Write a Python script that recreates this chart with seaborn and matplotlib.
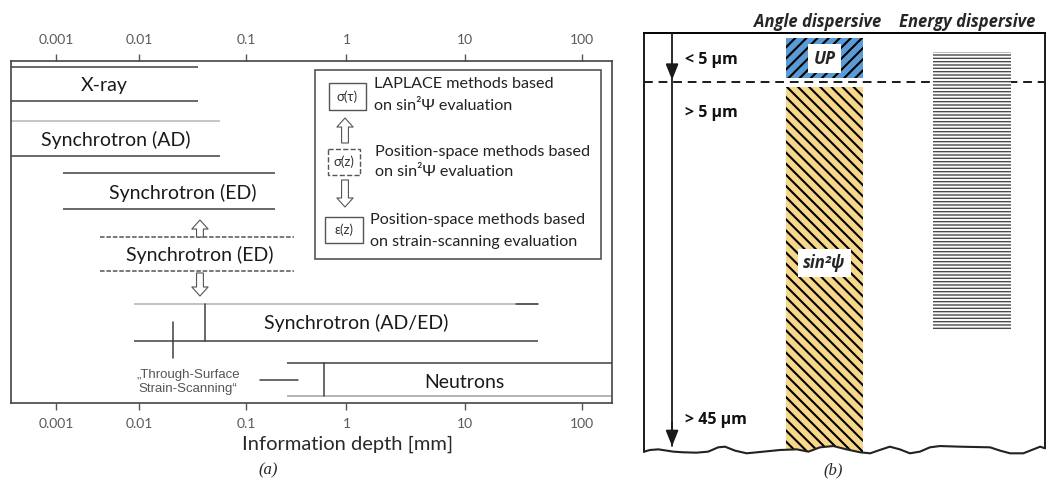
import numpy as np
import matplotlib
matplotlib.use("Agg")
import matplotlib.pyplot as plt
from matplotlib.patches import Rectangle
from matplotlib.ticker import FixedLocator, FixedFormatter, NullLocator
import seaborn as sns

# ---------------- data : panel (a) ----------------
tick_values = [0.001, 0.01, 0.1, 1, 10, 100]
tick_labels = ["0.001", "0.01", "0.1", "1", "10", "100"]
methods = ["X-ray", "Synchrotron (AD)", "Synchrotron (ED)", "Synchrotron (ED)",
           "Synchrotron (AD/ED)", "Neutrons"]
depth_min = [0.00029, 0.00029, 0.00121, 0.00337, 0.0086, 0.256]
depth_max = [0.0354, 0.057, 0.194, 0.30, 42.5, 182.0]
depth_split = [None, None, None, None, 0.041, 0.597]
label_depth = [0.00376, 0.00524, 0.0256, 0.037, 1.20, 10.0]
adad_dark_from = 27.5
arrow_depth = 0.037
tss_marker = 0.0206
tss_range = [0.138, 0.329]
tss_label_depth = 0.0285
tss_label = "\u201eThrough-Surface\nStrain-Scanning\u201c"
depth_limits = [0.00029, 182.0]
xlabel = "Information depth [mm]"

legend_codes = ["σ(τ)", "σ(z)", "ε(z)"]
legend_lines = ["LAPLACE methods based", "on sin²Ψ evaluation",
                "Position-space methods based", "on sin²Ψ evaluation",
                "Position-space methods based", "on strain-scanning evaluation"]

# ---------------- data : panel (b) ----------------
b_headers = ["Angle dispersive", "Energy dispersive"]
b_depth_labels = ["< 5 µm", "> 5 µm", "> 45 µm"]
b_depth_label_pos = [2.6, 8.4, 41.7]
b_boundary = 5.0
up_range = [0.22, 4.57]
sin2psi_top = 5.54
ed_range = [1.74, 32.07]
surface_x = [0.0, 0.015, 0.036, 0.057, 0.073, 0.098, 0.131, 0.160, 0.185, 0.202,
             0.227, 0.256, 0.298, 0.339, 0.381, 0.410, 0.439, 0.472, 0.505, 0.539,
             0.564, 0.588, 0.613, 0.638, 0.663, 0.688, 0.713, 0.738, 0.788, 0.863,
             0.888, 0.913, 0.946, 0.971, 0.988, 1.0]
surface_depth = [45.18, 45.0, 44.93, 45.07, 45.18, 45.25, 45.29, 45.18, 44.71, 44.64,
                 45.07, 45.36, 45.18, 45.0, 44.93, 45.18, 44.71, 44.57, 44.93, 45.25,
                 45.36, 45.0, 44.64, 44.93, 45.36, 45.18, 44.71, 44.57, 44.64, 44.71,
                 45.07, 45.36, 45.36, 44.93, 44.64, 44.82]

# ---------------- layout / style ----------------
W, H = 1047, 486
row_top = [67, 121, 173, 237, 304, 363]
row_bot = [101, 156, 209, 271, 341, 396]
label_row = [86, 140, 193, 255, 323, 383]
top_col = ["#404040", "#b5b5b5", "#404040", "#555555", "#b0b0b0", "#404040"]
bot_col = ["#404040", "#404040", "#404040", "#555555", "#404040", "#a0a0a0"]
row_ls = ["-", "-", "-", (0, (3, 1.2)), "-", "-"]

sns.set_theme(style="white")
plt.rcParams["font.family"] = ["Lato", "DejaVu Sans"]
plt.rcParams["hatch.linewidth"] = 1.5

fig = plt.figure(figsize=(W / 100, H / 100), dpi=100)


def fa(l, t, r, b):
    return [l / W, 1 - b / H, (r - l) / W, (b - t) / H]


# ===== panel (a) =====
ax = fig.add_axes(fa(11, 61, 612, 403))
dec_log = np.array([-4, -3, -2, -1, 0, 1, 2, 3], float)
dec_pos = np.array([-27.5, 56, 139.5, 246, 346.5, 464.5, 581.5, 698.5])


def fwd(x):
    x = np.asarray(x, float)
    return np.interp(np.log10(np.clip(x, 1e-12, None)), dec_log, dec_pos)


def inv(p):
    return 10 ** np.interp(np.asarray(p, float), dec_pos, dec_log)


ax.set_xscale("function", functions=(fwd, inv))

lw_a = 1.1
for i, name in enumerate(methods):
    ax.plot([depth_min[i], depth_max[i]], [row_top[i]] * 2, color=top_col[i],
            lw=lw_a, ls=row_ls[i], solid_capstyle="butt")
    ax.plot([depth_min[i], depth_max[i]], [row_bot[i]] * 2, color=bot_col[i],
            lw=lw_a, ls=row_ls[i], solid_capstyle="butt")
    if depth_split[i] is not None:
        ax.plot([depth_split[i]] * 2, [row_top[i], row_bot[i]], color="#404040", lw=lw_a)
    ax.text(label_depth[i], label_row[i], name, ha="center", va="center",
            fontsize=14, color="#1a1a1a")

ax.plot([adad_dark_from, depth_max[4]], [row_top[4]] * 2, color="#404040", lw=lw_a)
ax.plot([tss_marker] * 2, [322, 358], color="#404040", lw=lw_a)
ax.plot(tss_range, [380, 380], color="#404040", lw=lw_a)
ax.text(tss_label_depth, 382, tss_label, ha="center", va="center", fontsize=9.5,
        color="#555555", family=["Liberation Sans", "DejaVu Sans"], linespacing=1.15)

hollow = dict(arrowstyle="simple,head_length=0.5,head_width=0.9,tail_width=0.38",
              fc="white", ec="#555555", lw=0.8, shrinkA=0, shrinkB=0, mutation_scale=13)
ax.annotate("", xy=(arrow_depth, 220), xytext=(arrow_depth, 237), arrowprops=hollow)
ax.annotate("", xy=(arrow_depth, 296), xytext=(arrow_depth, 273), arrowprops=hollow)

ax.set_xlim(*depth_limits)
ax.set_ylim(403, 61)
ax.xaxis.set_major_locator(FixedLocator(tick_values))
ax.xaxis.set_major_formatter(FixedFormatter(tick_labels))
ax.xaxis.set_minor_locator(NullLocator())
ax.set_yticks([])
ax.tick_params(axis="x", which="major", top=True, labeltop=True, bottom=True,
               labelbottom=True, direction="out", length=5, width=1,
               color="#555555", labelcolor="#5a5a5a", labelsize=10, pad=6)
for s in ax.spines.values():
    s.set_color("#444444")
    s.set_linewidth(1.2)
ax.set_xlabel(xlabel, fontsize=14.5, color="#2a2a2a")
ax.xaxis.set_label_coords((348 - 11) / 601, -(436 - 403) / 342)

# ===== panel (b) =====
axb = fig.add_axes(fa(644, 33, 1045, 458))
bfont = ["Open Sans", "DejaVu Sans"]

# bottom surface profile
sns.lineplot(x=surface_x, y=surface_depth, ax=axb, color="#222222", linewidth=1.5,
             estimator=None, sort=False, legend=False, zorder=5)
axb.get_lines()[-1].set_clip_on(False)

ytop = -0.33
axb.plot([0, 0], [ytop, surface_depth[0]], color="k", lw=1.4, clip_on=False)
axb.plot([1, 1], [ytop, surface_depth[-1]], color="k", lw=1.4, clip_on=False)
axb.plot([0, 1], [b_boundary] * 2, color="k", lw=1.4, ls=(0, (4.5, 3)), clip_on=False, zorder=1)

# depth arrow
axb.plot([0.07, 0.07], [ytop, 44.6], color="k", lw=1.3, zorder=3)
head = dict(arrowstyle="-|>,head_length=0.8,head_width=0.32", color="k", lw=1.3,
            shrinkA=0, shrinkB=0, mutation_scale=12)
axb.annotate("", xy=(0.07, 4.78), xytext=(0.07, 3.0), arrowprops=head, zorder=3)
axb.annotate("", xy=(0.07, 44.6), xytext=(0.07, 42.0), arrowprops=head, zorder=3)

ad_col = (0.354, 0.546)
ed_col = (0.721, 0.915)

up = Rectangle((ad_col[0], up_range[0]), ad_col[1] - ad_col[0], up_range[1] - up_range[0],
               facecolor="#5b9bd5", edgecolor="black", lw=0, hatch="///", zorder=2)
axb.add_patch(up)

xs = np.linspace(ad_col[0], ad_col[1], 80)
ys = np.interp(xs, surface_x, surface_depth)
yel = axb.fill_between(xs, sin2psi_top, ys, facecolor="#f7d88a", edgecolor="black",
                       lw=0, hatch="\\\\\\", zorder=2)

with plt.rc_context({"hatch.linewidth": 1.0}):
    ed = Rectangle((ed_col[0], ed_range[0]), ed_col[1] - ed_col[0], ed_range[1] - ed_range[0],
                   facecolor="white", edgecolor="#4a4a4a", lw=0, hatch="-----", zorder=2)
    if hasattr(ed, "set_hatch_linewidth"):
        ed.set_hatch_linewidth(1.0)
    axb.add_patch(ed)

for t, y in zip(b_depth_labels, b_depth_label_pos):
    axb.text(0.102, y, t, ha="left", va="center", fontsize=11.5, fontweight="bold",
             family=bfont, color="#111111")

box = dict(boxstyle="square,pad=0.3", fc="white", ec="none")
axb.text(0.45, 2.45, "UP", ha="center", va="center", fontsize=12.5, fontweight="bold",
         style="italic", family=bfont, bbox=box, zorder=4)
axb.text(0.45, 24.67, "sin²ψ", ha="center", va="center", fontsize=12, fontweight="bold",
         style="italic", family=bfont, bbox=box, zorder=4)

axb.text(0.434, -1.52, b_headers[0], ha="center", va="center", fontsize=12,
         fontweight="bold", style="italic", family=bfont)
axb.text(0.805, -1.52, b_headers[1], ha="center", va="center", fontsize=12,
         fontweight="bold", style="italic", family=bfont)

axb.set_xlim(0, 1)
axb.set_ylim(45.87, ytop)
axb.set_xticks([])
axb.set_yticks([])
axb.set_xlabel("")
axb.set_ylabel("")
for k, s in axb.spines.items():
    s.set_visible(k == "top")
axb.spines["top"].set_color("black")
axb.spines["top"].set_linewidth(1.4)

# ===== overlay: legend box of (a) and panel captions =====
ov = fig.add_axes([0, 0, 1, 1])
ov.set_xlim(0, W)
ov.set_ylim(H, 0)
ov.axis("off")
ov.patch.set_alpha(0)

ov.add_patch(Rectangle((315, 70), 286, 189, fill=False, ec="#555555", lw=1.2))
code_boxes = [(329, 83, 366, 110, "-"), (328, 149, 360, 175, "--"), (325, 217, 363, 243, "-")]
for (l, t, r, b, ls), code in zip(code_boxes, legend_codes):
    ov.add_patch(Rectangle((l, t), r - l, b - t, fill=False, ec="#555555", lw=1.0, ls=ls))
    ov.text((l + r) / 2, (t + b) / 2, code, ha="center", va="center", fontsize=9.5,
            color="#333333")
line_pos = [(374, 84), (374, 106), (375, 152), (375, 172), (370, 220), (370, 242)]
for (x, y), t in zip(line_pos, legend_lines):
    ov.text(x, y, t, ha="left", va="center", fontsize=11.6, color="#222222")
ov.annotate("", xy=(345, 118), xytext=(345, 143), arrowprops=hollow)
ov.annotate("", xy=(345, 207), xytext=(345, 180), arrowprops=hollow)

ov.text(268, 470, "(a)", ha="center", va="center", fontsize=12, style="italic",
        family=["Liberation Serif", "DejaVu Serif"])
ov.text(833, 470, "(b)", ha="center", va="center", fontsize=12, style="italic",
        family=["Liberation Serif", "DejaVu Serif"])

fig.savefig("out.png", dpi=100)
